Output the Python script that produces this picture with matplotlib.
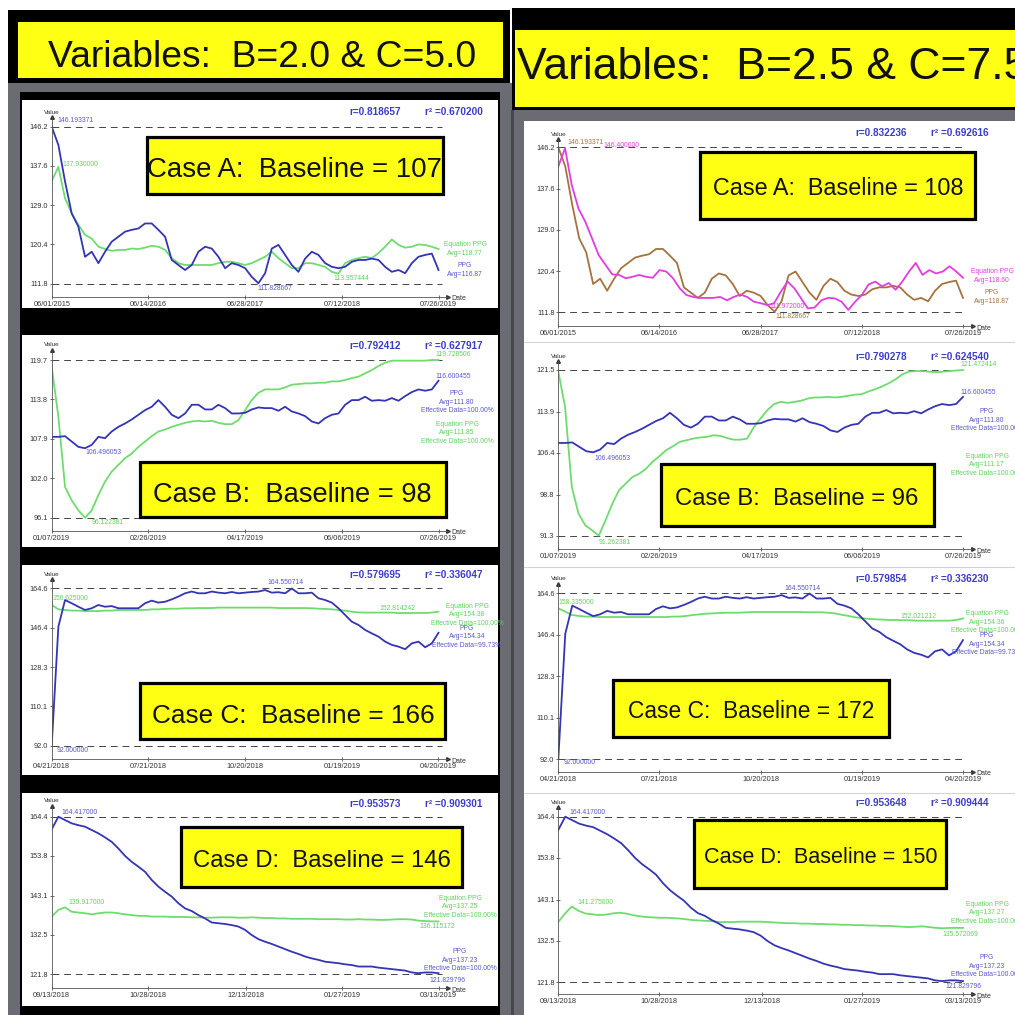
import numpy as np
import matplotlib.pyplot as plt
from matplotlib.patches import Rectangle

W = H = 1015
plt.rcParams['font.family'] = ['Liberation Sans', 'DejaVu Sans']

# ---------------- data ----------------
# Case A  (06/01/2015 - 07/26/2019)
a_dates = ['06/01/2015', '06/14/2016', '06/28/2017', '07/12/2018', '07/26/2019']
a_days = [0, 379, 758, 1137, 1516]
a_yticks = [111.8, 120.4, 129.0, 137.6, 146.2]
a_ppg = [146.2, 142.2, 134.2, 127.2, 124.3, 117.7, 118.8, 116.3, 118.8, 121.0,
         122.1, 123.2, 123.6, 123.9, 125.0, 125.0, 123.6, 122.1, 117.0, 115.9,
         114.8, 115.9, 118.8, 119.9, 119.5, 117.7, 115.2, 116.3, 115.9, 115.2,
         113.3, 111.9, 114.1, 119.5, 120.3, 118.1, 115.9, 114.4, 117.3, 118.8,
         118.1, 116.3, 115.5, 115.2, 115.5, 116.6, 117.0, 117.0, 117.3, 117.0,
         115.5, 114.4, 114.8, 114.1, 116.3, 117.7, 118.1, 118.4, 114.8]
a_eq_l = [134.3, 137.4, 130.5, 127.2, 124.7, 122.5, 121.7, 119.9, 119.4, 119.0,
          119.2, 119.2, 119.5, 119.4, 119.7, 120.1, 119.9, 119.2, 117.4, 116.3,
          115.9, 115.9, 115.9, 115.9, 115.9, 116.3, 116.6, 116.6, 116.3, 115.9,
          116.3, 117.0, 117.7, 118.8, 117.4, 116.3, 115.2, 115.2, 116.3, 116.3,
          115.9, 115.5, 114.4, 114.0, 116.3, 117.0, 117.4, 117.7, 117.4, 118.5,
          119.9, 121.5, 120.3, 119.7, 119.9, 120.4, 120.3, 119.9, 119.4]
a_eq_r = [142.2, 146.0, 138.3, 133.4, 130.7, 127.2, 123.7, 121.7, 119.7, 119.6,
          118.9, 119.2, 119.6, 119.2, 119.0, 120.6, 120.3, 118.9, 116.8, 115.4,
          115.0, 114.8, 114.8, 114.8, 115.0, 114.3, 115.0, 115.5, 115.0, 114.0,
          113.7, 113.3, 113.7, 116.1, 118.2, 116.8, 114.7, 112.6, 112.8, 114.3,
          114.8, 114.7, 114.0, 112.3, 114.0, 115.4, 117.6, 118.2, 117.2, 117.9,
          116.5, 118.2, 120.3, 122.1, 119.6, 120.6, 119.9, 120.3, 121.4, 120.3,
          119.0]

# Case B  (01/07/2019 - 07/26/2019)
b_dates = ['01/07/2019', '02/26/2019', '04/17/2019', '06/06/2019', '07/26/2019']
b_days = [0, 50, 100, 150, 200]
b_yticks_l = [96.1, 102.0, 107.9, 113.8, 119.7]
b_yticks_r = [91.3, 98.8, 106.4, 113.9, 121.5]
b_ppg = [108.2, 108.2, 108.3, 107.5, 106.7, 106.5, 107.0, 108.2, 108.0, 109.0,
         109.7, 110.2, 110.8, 111.5, 112.2, 112.7, 113.7, 112.7, 111.5, 111.0,
         111.7, 113.0, 113.0, 112.3, 112.3, 113.0, 112.5, 111.7, 111.7, 111.8,
         112.3, 112.6, 112.5, 112.5, 112.1, 112.7, 112.0, 111.7, 111.3, 110.5,
         110.2, 111.0, 111.5, 111.7, 113.0, 113.7, 113.7, 114.2, 113.6, 113.7,
         113.6, 114.0, 113.6, 114.3, 114.9, 115.3, 115.1, 115.3, 116.6]
b_eq_l = [118.7, 111.2, 100.7, 98.7, 97.2, 96.1, 97.2, 99.5, 101.5, 103.0,
          104.0, 105.0, 105.7, 106.7, 107.5, 108.3, 109.0, 109.3, 109.7, 110.0,
          110.3, 110.5, 110.6, 110.5, 110.6, 110.3, 110.1, 110.1, 110.7, 112.2,
          113.7, 114.8, 115.3, 115.3, 115.3, 115.6, 116.0, 116.1, 116.2, 116.2,
          116.3, 116.3, 116.5, 116.5, 116.7, 117.0, 117.2, 117.7, 118.2, 118.8,
          119.3, 119.6, 119.6, 119.6, 119.6, 119.6, 119.6, 119.7, 119.7]
b_eq_r = [121.2, 114.8, 100.2, 95.3, 93.2, 92.3, 91.3, 94.1, 97.1, 99.6,
          100.8, 102.0, 102.6, 103.5, 104.8, 105.8, 106.9, 107.6, 108.4, 108.7,
          109.0, 109.2, 109.3, 109.6, 109.5, 109.1, 108.8, 108.8, 109.0, 111.1,
          112.7, 114.2, 115.3, 115.7, 115.5, 115.7, 115.9, 116.3, 116.5, 116.5,
          116.6, 116.5, 116.6, 116.8, 117.0, 117.1, 117.6, 118.0, 118.5, 119.1,
          119.8, 120.7, 121.2, 121.3, 121.3, 121.2, 121.1, 121.2, 121.3, 121.4,
          121.5]

# Case C  (04/21/2018 - 04/20/2019)
c_dates = ['04/21/2018', '07/21/2018', '10/20/2018', '01/19/2019', '04/20/2019']
c_days = [0, 91, 182, 273, 364]
c_yticks = [92.0, 110.1, 128.3, 146.4, 164.6]
c_ppg = [92.0, 146.9, 159.2, 157.7, 156.1, 154.6, 155.4, 156.9, 156.1, 156.4,
         155.4, 155.4, 155.4, 155.4, 157.7, 158.9, 158.0, 158.4, 159.5, 160.8,
         162.3, 163.1, 162.3, 162.3, 163.1, 162.6, 162.3, 162.9, 162.3, 162.6,
         162.9, 163.1, 163.8, 162.6, 162.8, 162.3, 164.5, 162.3, 162.3, 162.6,
         160.0, 159.2, 158.0, 155.4, 152.3, 149.2, 147.7, 145.4, 143.8, 142.3,
         140.0, 138.5, 137.7, 136.5, 139.2, 140.0, 137.4, 139.2, 144.1]
c_eq_l = [156.9, 154.9, 154.6, 154.3, 154.3, 154.1, 154.1, 154.1, 154.3, 154.3,
          154.6, 154.6, 154.6, 154.6, 154.6, 154.9, 154.9, 155.1, 155.2, 155.2,
          155.4, 155.4, 155.5, 155.5, 155.5, 155.7, 155.7, 155.7, 155.7, 155.7,
          155.7, 155.7, 155.7, 155.7, 155.5, 155.5, 155.5, 155.5, 155.5, 155.4,
          155.2, 155.1, 154.9, 154.6, 154.3, 153.8, 153.5, 153.4, 153.4, 153.4,
          153.4, 153.4, 153.2, 153.2, 153.2, 153.2, 153.2, 153.4, 153.8]
c_eq_r = [158.0, 156.6, 155.1, 154.7, 154.4, 154.4, 154.2, 154.2, 154.2, 154.2,
          154.2, 154.2, 154.2, 154.2, 154.2, 154.2, 154.2, 154.4, 154.4, 154.7,
          155.1, 155.4, 155.7, 155.8, 156.0, 156.1, 156.1, 156.1, 156.3, 156.4,
          156.4, 156.4, 156.4, 156.4, 156.4, 156.4, 156.4, 156.3, 156.3, 156.3,
          156.1, 155.8, 155.2, 154.7, 154.1, 153.7, 153.4, 153.2, 153.1, 152.9,
          152.9, 152.8, 152.8, 152.6, 152.6, 152.6, 152.6, 152.6, 152.6, 152.9,
          153.6]

# Case D  (09/13/2018 - 03/13/2019)
d_dates = ['09/13/2018', '10/28/2018', '12/13/2018', '01/27/2019', '03/13/2019']
d_days = [0, 45, 91, 136, 181]
d_yticks = [121.8, 132.5, 143.1, 153.8, 164.4]
d_ppg = [161.0, 164.4, 163.5, 162.6, 162.1, 161.7, 160.8, 159.9, 158.8, 157.6,
         155.8, 153.8, 152.2, 150.9, 149.5, 147.3, 145.5, 144.1, 142.8, 141.0,
         139.6, 138.9, 137.8, 136.9, 135.8, 135.6, 135.4, 135.1, 134.7, 133.8,
         132.4, 131.3, 130.6, 130.0, 129.3, 128.6, 127.9, 127.3, 126.6, 126.1,
         125.7, 125.2, 125.0, 124.8, 124.5, 124.3, 123.9, 123.9, 123.9, 123.6,
         123.4, 123.2, 123.0, 122.8, 122.3, 122.1, 122.3, 122.3, 122.1]
d_eq_l = [137.4, 139.2, 139.9, 138.7, 138.5, 138.3, 138.0, 138.3, 138.5, 138.5,
          138.3, 138.0, 137.8, 137.6, 137.6, 137.4, 137.4, 137.4, 137.3, 137.3,
          137.3, 137.2, 137.2, 137.1, 137.1, 137.2, 137.2, 137.2, 137.1, 137.1,
          137.2, 137.1, 137.0, 137.0, 136.9, 136.9, 136.8, 136.8, 136.8, 136.8,
          136.7, 136.7, 136.7, 136.7, 136.6, 136.6, 136.7, 136.6, 136.6, 136.5,
          136.5, 136.6, 136.7, 136.7, 136.6, 136.3, 136.2, 136.1, 136.1]
d_eq_r = [137.3, 139.5, 141.3, 140.2, 139.5, 139.3, 139.1, 139.2, 139.5, 139.7,
          139.5, 139.1, 138.8, 138.6, 138.5, 138.4, 138.4, 138.3, 138.2, 138.0,
          137.8, 137.7, 137.6, 137.5, 137.3, 137.3, 137.3, 137.4, 137.4, 137.4,
          137.4, 137.3, 137.2, 137.1, 137.0, 137.0, 136.9, 136.9, 136.8, 136.8,
          136.7, 136.7, 136.6, 136.6, 136.5, 136.5, 136.4, 136.4, 136.3, 136.3,
          136.2, 136.1, 136.0, 136.1, 136.2, 136.0, 135.8, 135.7, 135.8, 135.8,
          135.8]

r_left = ['0.818657', '0.792412', '0.579695', '0.953573']
r2_left = ['0.670200', '0.627917', '0.336047', '0.909301']
r_right = ['0.832236', '0.790278', '0.579854', '0.953648']
r2_right = ['0.692616', '0.624540', '0.336230', '0.909444']

# ---------------- colours ----------------
BLUE = '#3434b6'
BLUE_T = '#5858d0'
GREEN = '#6edc6e'
GREEN_T = '#5fd25f'
MAGENTA = '#e23ce2'
BROWN = '#a5733f'
GREY_BG = '#6b6b74'
YELLOW = '#ffff14'
R_COL = '#3c3cc8'

fig = plt.figure(figsize=(W / 100, H / 100), dpi=100)
fig.patch.set_facecolor('white')


def px_rect(x0, y0, x1, y1):
    return [x0 / W, 1 - y1 / H, (x1 - x0) / W, (y1 - y0) / H]


def pixel_axes(z):
    ax = fig.add_axes([0, 0, 1, 1], zorder=z)
    ax.set_xlim(0, W)
    ax.set_ylim(H, 0)
    ax.axis('off')
    ax.patch.set_alpha(0)
    return ax


bg = pixel_axes(0)
ov = pixel_axes(5)


def rect(ax, x0, y0, x1, y1, color):
    ax.add_patch(Rectangle((x0, y0), x1 - x0, y1 - y0, facecolor=color, edgecolor='none'))


# background frames
rect(bg, 8, 83, 512, 1015, GREY_BG)
rect(bg, 512, 108, 1015, 1015, GREY_BG)
rect(bg, 511, 110, 514, 1015, '#46464e')
rect(bg, 8, 10, 510, 83, 'black')
rect(bg, 18, 22, 503, 78, YELLOW)
rect(bg, 512, 8, 1015, 110, 'black')
rect(bg, 515, 30, 1015, 107, YELLOW)
rect(bg, 20, 92, 500, 1015, 'black')
for y0, y1 in [(100, 308), (335, 547), (565, 775), (793, 1006)]:
    rect(bg, 22, y0, 498, y1, 'white')
rect(bg, 524, 121, 1015, 1015, 'white')
for y in [342, 567, 793]:
    bg.plot([524, 1015], [y, y], color='#d4d4d8', lw=0.8)

ov.text(262, 67, 'Variables:  B=2.0 & C=5.0', ha='center', va='baseline', fontsize=26.8, color='#111')
ov.text(517, 79, 'Variables:  B=2.5 & C=7.5', ha='left', va='baseline', fontsize=32, color='#111')

LEFT = (51.7, 438.5, 448)
RIGHT = (558.3, 963, 973)


def chart(col, top, ymax_px, ymin_px, bot, yticks, days, dates, lines, labels, r, r2, r_y):
    xl, xt, xa = col
    ax = fig.add_axes(px_rect(xl, top, xa, bot), zorder=2)
    ax.patch.set_alpha(0)
    span = days[-1]
    ax.set_xlim(0, span * (xa - xl) / (xt - xl))
    lo, hi = yticks[0], yticks[-1]
    k = (hi - lo) / (ymin_px - ymax_px)
    ax.set_ylim(lo - (bot - ymin_px) * k, hi + (ymax_px - top) * k)
    for v in (lo, hi):
        ax.plot([0, span * 1.008], [v, v], color='#444', lw=0.7, dashes=(7, 5))
    for vals, color in lines:
        ax.plot(np.linspace(0, span, len(vals)), vals, color=color, lw=1.3,
                solid_joinstyle='round')
    for s in ('top', 'right'):
        ax.spines[s].set_visible(False)
    for s in ('left', 'bottom'):
        ax.spines[s].set_color('#555')
        ax.spines[s].set_linewidth(0.6)
    ax.plot(0, 1, '^', color='#333', ms=2.6, transform=ax.transAxes, clip_on=False)
    ax.plot(1, 0, '>', color='#333', ms=2.6, transform=ax.transAxes, clip_on=False)
    ax.set_yticks(yticks, [f'{v:.1f}' for v in yticks])
    ax.set_xticks(days, dates)
    ax.tick_params(labelsize=5.3, colors='#333', length=2.5, width=0.5,
                   direction='inout', pad=1.5)
    ov.text(xl, top - 5, 'Value', fontsize=4.6, color='#333', ha='center', va='center')
    ov.text(xa + 3, bot + 2, 'Date', fontsize=5, color='#333', ha='left', va='center')
    for s, x, y, c, ha in labels:
        ov.text(x, y, s, color=c, ha=ha, va='center', fontsize=4.9, linespacing=1.25)
    ov.text(xl + 323, r_y, 'r=' + r, color=R_COL, fontsize=7.2, fontweight='bold',
            ha='center', va='center')
    ov.text(xl + 373, r_y, 'r\u00b2 =' + r2, color=R_COL, fontsize=7.2, fontweight='bold',
            ha='left', va='center')
    return ax


# ----- left column (B=2.0, C=5.0) -----
chart(LEFT, 117, 126.7, 283.7, 296.7, a_yticks, a_days, a_dates,
      [(a_eq_l, GREEN), (a_ppg, BLUE)],
      [('146.193371', 57, 120, BLUE_T, 'left'),
       ('137.930000', 62, 164, GREEN_T, 'left'),
       ('111.828667', 257, 288, BLUE_T, 'left'),
       ('113.957444', 333, 279, GREEN_T, 'left'),
       ('Equation PPG\nAvg=118.77', 465, 249, GREEN_T, 'center'),
       ('PPG\nAvg=116.87', 465, 270, BLUE_T, 'center')],
      r_left[0], r2_left[0], 112)

chart(LEFT, 350, 360, 517.7, 531, b_yticks_l, b_days, b_dates,
      [(b_eq_l, GREEN), (b_ppg, BLUE)],
      [('119.728506', 435, 354, GREEN_T, 'left'),
       ('116.600455', 435, 376, BLUE_T, 'left'),
       ('PPG\nAvg=111.80\nEffective Data=100.00%', 457, 402, BLUE_T, 'center'),
       ('Equation PPG\nAvg=111.85\nEffective Data=100.00%', 457, 433, GREEN_T, 'center'),
       ('106.496053', 103, 453, BLUE_T, 'center'),
       ('96.122381', 108, 523, GREEN_T, 'center')],
      r_left[1], r2_left[1], 346)

chart(LEFT, 579, 588.3, 745.7, 759.3, c_yticks, c_days, c_dates,
      [(c_eq_l, GREEN), (c_ppg, BLUE)],
      [('164.550714', 286, 583, BLUE_T, 'center'),
       ('156.625000', 52, 599, GREEN_T, 'left'),
       ('152.814242', 397, 609, GREEN_T, 'center'),
       ('Equation PPG\nAvg=154.38\nEffective Data=100.00%', 467, 615, GREEN_T, 'center'),
       ('PPG\nAvg=154.34\nEffective Data=99.73%', 467, 637, BLUE_T, 'center'),
       ('92.000000', 73, 751, BLUE_T, 'center')],
      r_left[2], r2_left[2], 575)

chart(LEFT, 806, 816.7, 974.3, 988.3, d_yticks, d_days, d_dates,
      [(d_eq_l, GREEN), (d_ppg, BLUE)],
      [('164.417000', 80, 812, BLUE_T, 'center'),
       ('139.917000', 87, 903, GREEN_T, 'center'),
       ('Equation PPG\nAvg=137.25\nEffective Data=100.00%', 460, 907, GREEN_T, 'center'),
       ('136.115172', 437, 927, GREEN_T, 'center'),
       ('PPG\nAvg=137.23\nEffective Data=100.00%', 460, 960, BLUE_T, 'center'),
       ('121.829796', 447, 981, BLUE_T, 'center')],
      r_left[3], r2_left[3], 804)

# ----- right column (B=2.5, C=7.5) -----
chart(RIGHT, 139, 147.3, 312.3, 326, a_yticks, a_days, a_dates,
      [(a_ppg, BROWN), (a_eq_r, MAGENTA)],
      [('146.193371', 567, 142, BROWN, 'left'),
       ('146.400000', 603, 145, MAGENTA, 'left'),
       ('111.972000', 787, 307, MAGENTA, 'center'),
       ('111.828667', 793, 317, BROWN, 'center'),
       ('Equation PPG\nAvg=118.60', 992, 276, MAGENTA, 'center'),
       ('PPG\nAvg=118.87', 992, 297, BROWN, 'center')],
      r_right[0], r2_right[0], 133)

chart(RIGHT, 361, 370, 535.7, 549.3, b_yticks_r, b_days, b_dates,
      [(b_eq_r, GREEN), (b_ppg, BLUE)],
      [('121.472414', 960, 365, GREEN_T, 'left'),
       ('116.600455', 960, 392, BLUE_T, 'left'),
       ('PPG\nAvg=111.80\nEffective Data=100.00%', 987, 420, BLUE_T, 'center'),
       ('Equation PPG\nAvg=111.17\nEffective Data=100.00%', 987, 465, GREEN_T, 'center'),
       ('106.496053', 612, 458, BLUE_T, 'center'),
       ('91.262381', 615, 542, GREEN_T, 'center')],
      r_right[1], r2_right[1], 357)

chart(RIGHT, 584, 593.3, 759, 771.7, c_yticks, c_days, c_dates,
      [(c_eq_r, GREEN), (c_ppg, BLUE)],
      [('164.550714', 803, 588, BLUE_T, 'center'),
       ('158.335000', 558, 602, GREEN_T, 'left'),
       ('152.021212', 918, 616, GREEN_T, 'center'),
       ('Equation PPG\nAvg=154.36\nEffective Data=100.00%', 987, 622, GREEN_T, 'center'),
       ('PPG\nAvg=154.34\nEffective Data=99.73%', 987, 644, BLUE_T, 'center'),
       ('92.000000', 580, 763, BLUE_T, 'center')],
      r_right[2], r2_right[2], 579)

chart(RIGHT, 807, 816.7, 982.3, 994.3, d_yticks, d_days, d_dates,
      [(d_eq_r, GREEN), (d_ppg, BLUE)],
      [('164.417000', 588, 812, BLUE_T, 'center'),
       ('141.275000', 595, 902, GREEN_T, 'center'),
       ('Equation PPG\nAvg=137.27\nEffective Data=100.00%', 987, 913, GREEN_T, 'center'),
       ('135.572069', 960, 934, GREEN_T, 'center'),
       ('PPG\nAvg=137.23\nEffective Data=100.00%', 987, 966, BLUE_T, 'center'),
       ('121.829796', 963, 987, BLUE_T, 'center')],
      r_right[3], r2_right[3], 803)

# ----- yellow case boxes -----
boxes = [
    (146, 135, 445, 195, 'Case A:  Baseline = 107', 294, 176.7, 19.9),
    (139, 460, 448, 518, 'Case B:  Baseline = 98', 292, 501.7, 19.6),
    (139, 681, 447, 740, 'Case C:  Baseline = 166', 293, 723, 18.8),
    (180, 825, 464, 888, 'Case D:  Baseline = 146', 322, 867, 17.2),
    (699, 150, 977, 220, 'Case A:  Baseline = 108', 838, 195, 16.8),
    (660, 462, 936, 527, 'Case B:  Baseline = 96', 797, 505, 17.2),
    (612, 678, 891, 738, 'Case C:  Baseline = 172', 751, 718, 16.4),
    (693, 818, 948, 889, 'Case D:  Baseline = 150', 821, 863, 15.6),
]
for x0, y0, x1, y1, txt, tx, ty, fs in boxes:
    ov.add_patch(Rectangle((x0 + 1.5, y0 + 1.5), x1 - x0 - 3, y1 - y0 - 3,
                           facecolor=YELLOW, edgecolor='black', linewidth=2.3))
    ov.text(tx, ty, txt, ha='center', va='baseline', fontsize=fs, color='#111')

fig.savefig('out.png', dpi=100, facecolor='white')
